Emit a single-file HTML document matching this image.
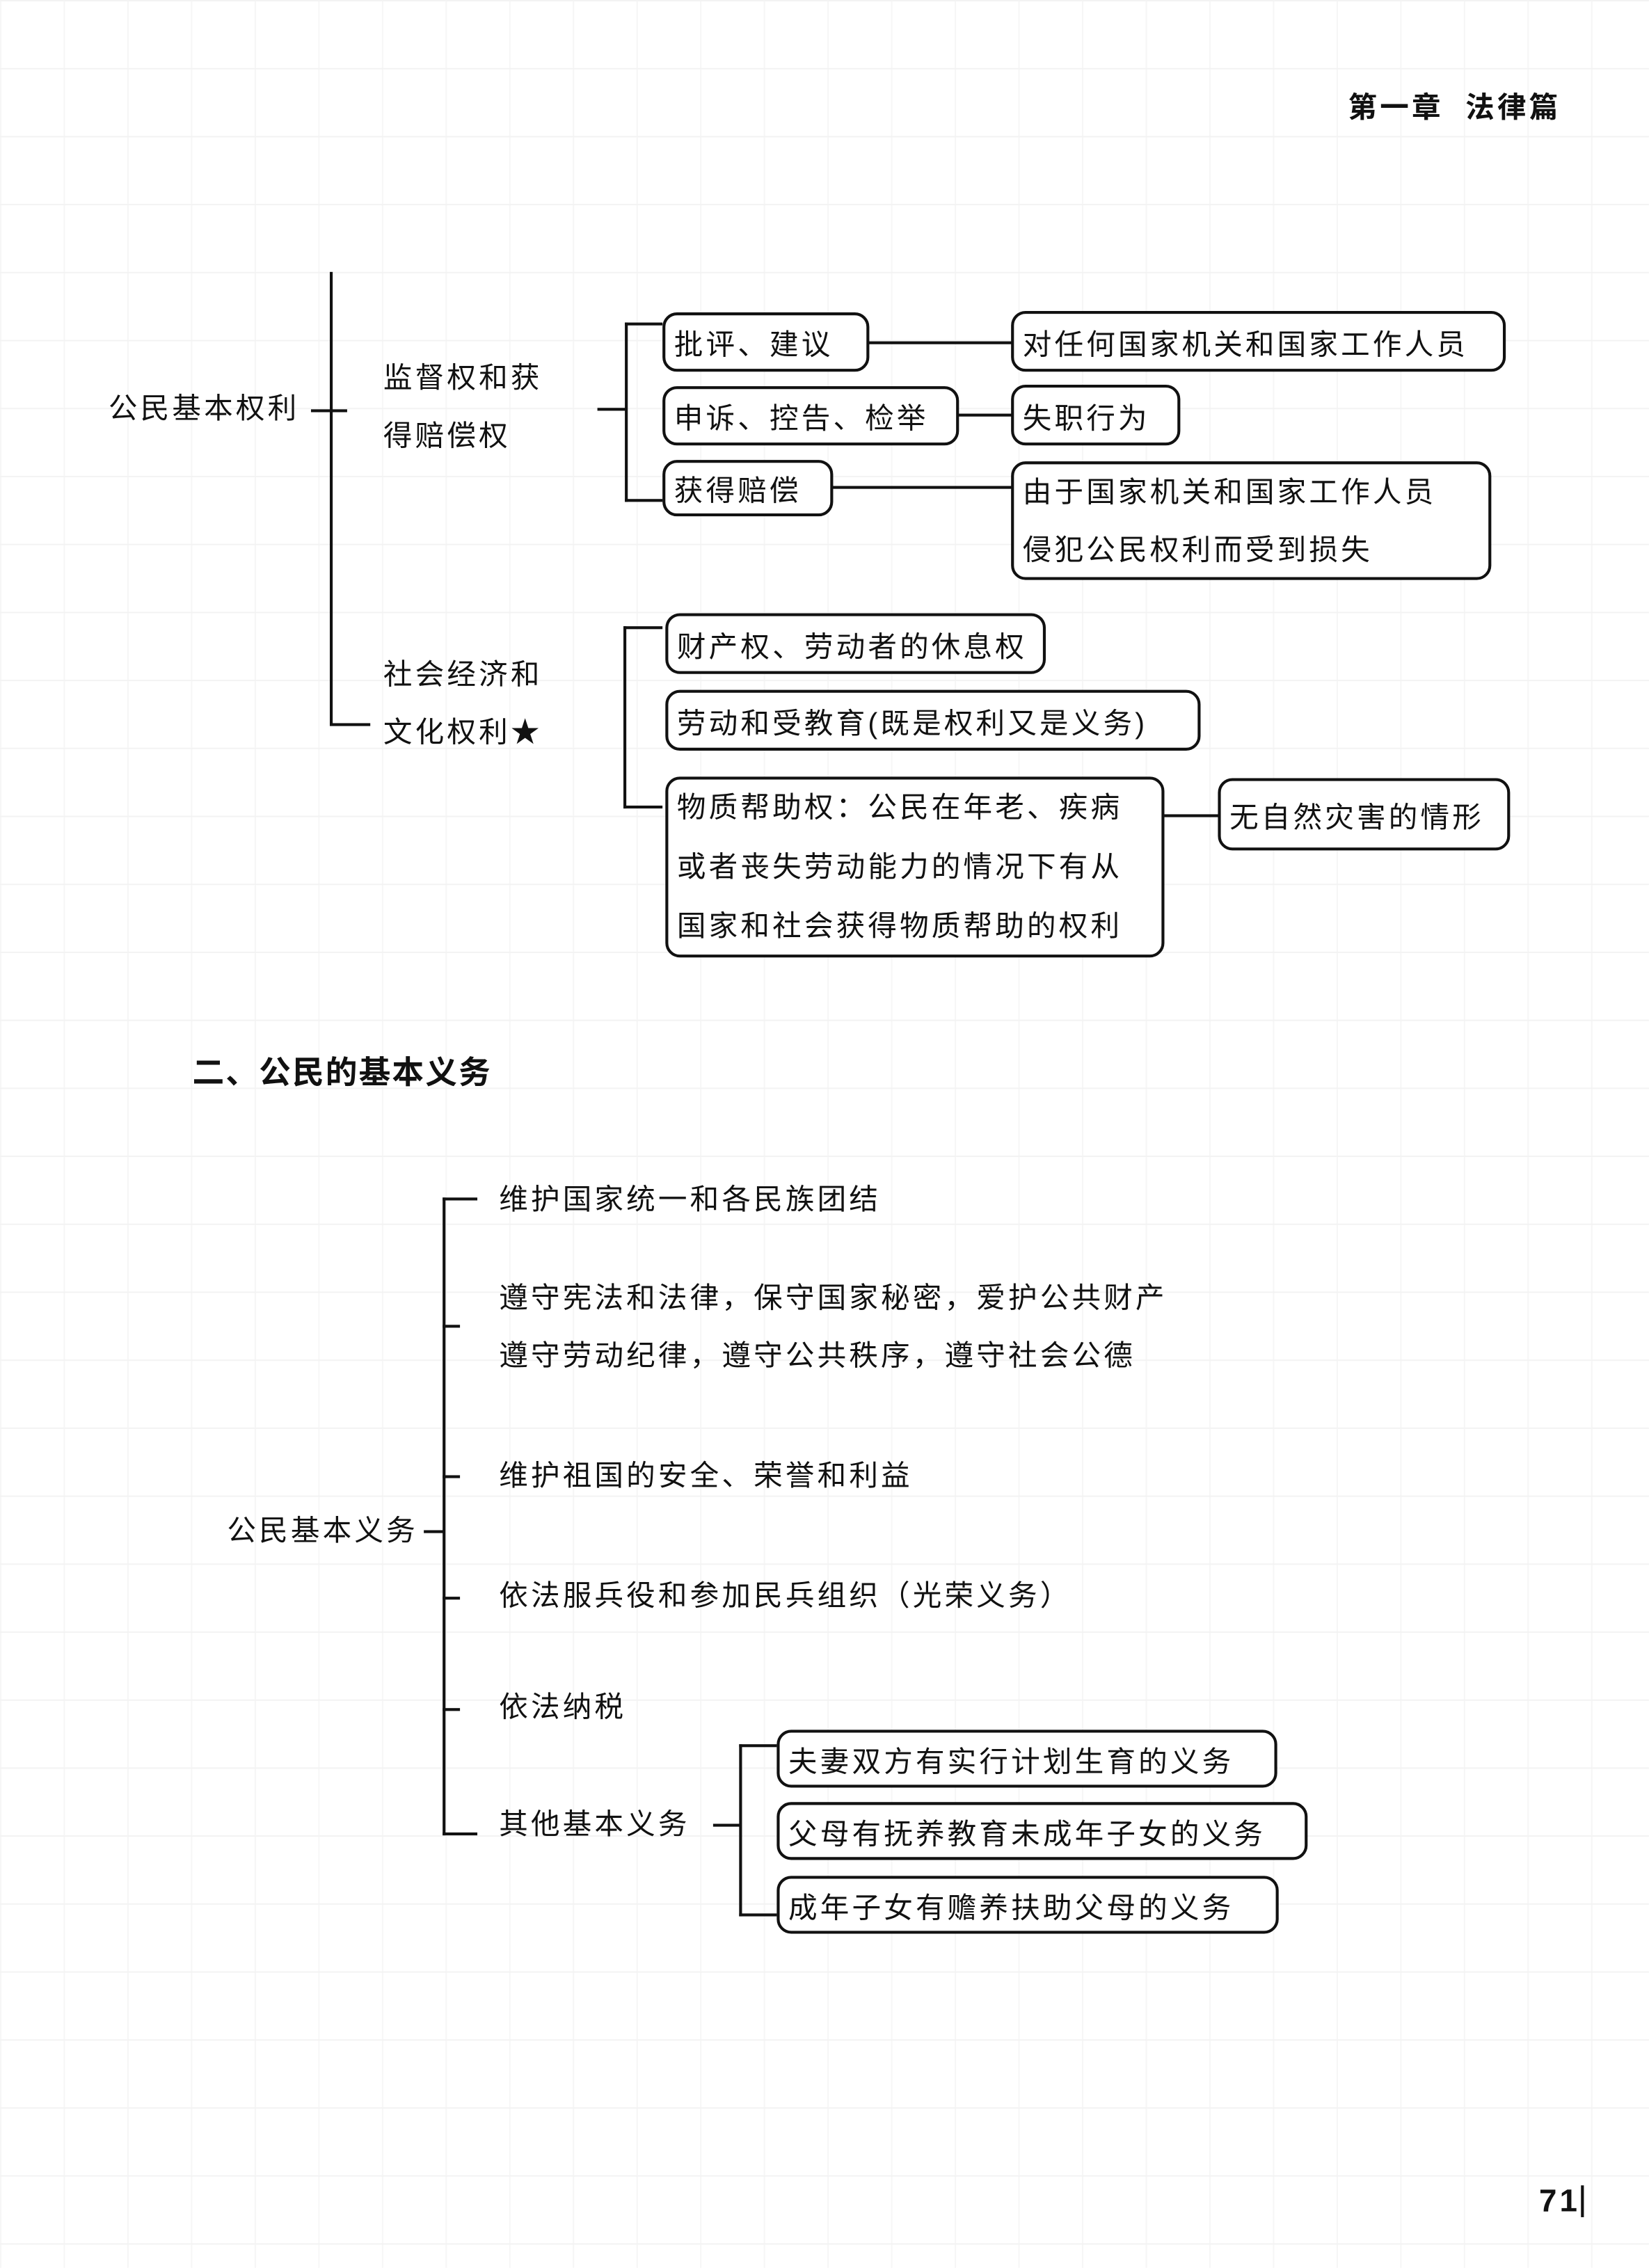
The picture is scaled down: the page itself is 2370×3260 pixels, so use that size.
<!DOCTYPE html>
<html><head><meta charset="utf-8">
<style>
html,body{margin:0;padding:0;background:#fff;}
body{width:2370px;height:3260px;overflow:hidden;}
#c{position:absolute;left:0;top:0;width:1140px;height:1568px;transform:scale(2.0789);transform-origin:0 0;
font-family:"Liberation Sans","Noto Sans CJK SC",sans-serif;color:#111;
background-image:linear-gradient(#f3f3f3 1px,transparent 1px),linear-gradient(90deg,#f6f6f6 1px,transparent 1px);
background-size:100% 47px,44px 100%;}
.t{position:absolute;font-size:20px;line-height:24px;white-space:nowrap;letter-spacing:2px;}
.b{position:absolute;border:2px solid #111;border-radius:10px;box-sizing:border-box;font-size:20px;letter-spacing:2px;padding-left:6px;white-space:nowrap;display:flex;align-items:center;background:#fff;}
.h{position:absolute;height:2px;background:#111;}
.v{position:absolute;width:2px;background:#111;}
</style></head><body><div id="c">
<div class="t" style="left:932px;top:63px;font-weight:bold;font-size:20px;letter-spacing:2px">第一章&nbsp;&nbsp;法律篇</div>

<!-- tree 1 -->
<div class="v" style="left:228px;top:188px;height:313px"></div>
<div class="h" style="left:215px;top:283px;width:25px"></div>
<div class="h" style="left:228px;top:500px;width:28px"></div>
<div class="t" style="left:75px;top:271px">公民基本权利</div>
<div class="t" style="left:265px;top:250px">监督权和获</div>
<div class="t" style="left:265px;top:290px">得赔偿权</div>
<div class="h" style="left:413px;top:282px;width:20px"></div>
<div class="v" style="left:432px;top:223px;height:124px"></div>
<div class="h" style="left:432px;top:223px;width:26px"></div>
<div class="h" style="left:432px;top:345px;width:26px"></div>
<div class="b" style="left:458px;top:216px;width:143px;height:41px">批评、建议</div>
<div class="b" style="left:458px;top:267px;width:205px;height:41px">申诉、控告、检举</div>
<div class="b" style="left:458px;top:318px;width:118px;height:39px">获得赔偿</div>
<div class="h" style="left:600px;top:236px;width:100px"></div>
<div class="h" style="left:662px;top:286px;width:38px"></div>
<div class="h" style="left:575px;top:336px;width:125px"></div>
<div class="b" style="left:699px;top:215px;width:342px;height:42px">对任何国家机关和国家工作人员</div>
<div class="b" style="left:699px;top:266px;width:117px;height:42px">失职行为</div>
<div class="b" style="left:699px;top:319px;width:332px;height:82px;line-height:40px;display:block;padding-top:0">由于国家机关和国家工作人员<br>侵犯公民权利而受到损失</div>

<div class="t" style="left:265px;top:455px">社会经济和</div>
<div class="t" style="left:265px;top:495px">文化权利★</div>
<div class="v" style="left:431px;top:433px;height:126px"></div>
<div class="h" style="left:431px;top:433px;width:27px"></div>
<div class="h" style="left:431px;top:557px;width:27px"></div>
<div class="b" style="left:460px;top:424px;width:263px;height:42px">财产权、劳动者的休息权</div>
<div class="b" style="left:460px;top:477px;width:370px;height:42px">劳动和受教育(既是权利又是义务)</div>
<div class="b" style="left:460px;top:537px;width:345px;height:125px;line-height:41px;display:block;padding-top:0">物质帮助权：公民在年老、疾病<br>或者丧失劳动能力的情况下有从<br>国家和社会获得物质帮助的权利</div>
<div class="h" style="left:805px;top:563px;width:38px"></div>
<div class="b" style="left:842px;top:538px;width:202px;height:50px">无自然灾害的情形</div>

<div class="t" style="left:133px;top:728px;font-size:22px;letter-spacing:1px;font-weight:bold;line-height:28px">二、公民的基本义务</div>

<!-- tree 2 -->
<div class="v" style="left:306px;top:828px;height:441px"></div>
<div class="h" style="left:306px;top:828px;width:24px"></div>
<div class="h" style="left:306px;top:916px;width:12px"></div>
<div class="h" style="left:306px;top:1020px;width:12px"></div>
<div class="h" style="left:306px;top:1104px;width:12px"></div>
<div class="h" style="left:306px;top:1181px;width:12px"></div>
<div class="h" style="left:306px;top:1267px;width:24px"></div>
<div class="h" style="left:293px;top:1058px;width:14px"></div>
<div class="t" style="left:157px;top:1047px">公民基本义务</div>
<div class="t" style="left:345px;top:818px">维护国家统一和各民族团结</div>
<div class="t" style="left:345px;top:886px">遵守宪法和法律，保守国家秘密，爱护公共财产</div>
<div class="t" style="left:345px;top:926px">遵守劳动纪律，遵守公共秩序，遵守社会公德</div>
<div class="t" style="left:345px;top:1009px">维护祖国的安全、荣誉和利益</div>
<div class="t" style="left:345px;top:1092px">依法服兵役和参加民兵组织（光荣义务）</div>
<div class="t" style="left:345px;top:1169px">依法纳税</div>
<div class="t" style="left:345px;top:1250px">其他基本义务</div>
<div class="h" style="left:493px;top:1261px;width:19px"></div>
<div class="v" style="left:511px;top:1206px;height:119px"></div>
<div class="h" style="left:511px;top:1206px;width:26px"></div>
<div class="h" style="left:511px;top:1323px;width:26px"></div>
<div class="b" style="left:537px;top:1196px;width:346px;height:40px">夫妻双方有实行计划生育的义务</div>
<div class="b" style="left:537px;top:1246px;width:367px;height:40px">父母有抚养教育未成年子女的义务</div>
<div class="b" style="left:537px;top:1297px;width:347px;height:40px">成年子女有赡养扶助父母的义务</div>

<div class="t" style="left:1064px;top:1510px;font-size:22px;font-weight:bold">71</div>
<div class="v" style="left:1093px;top:1511px;height:22px;width:2px"></div>
</div></body></html>
